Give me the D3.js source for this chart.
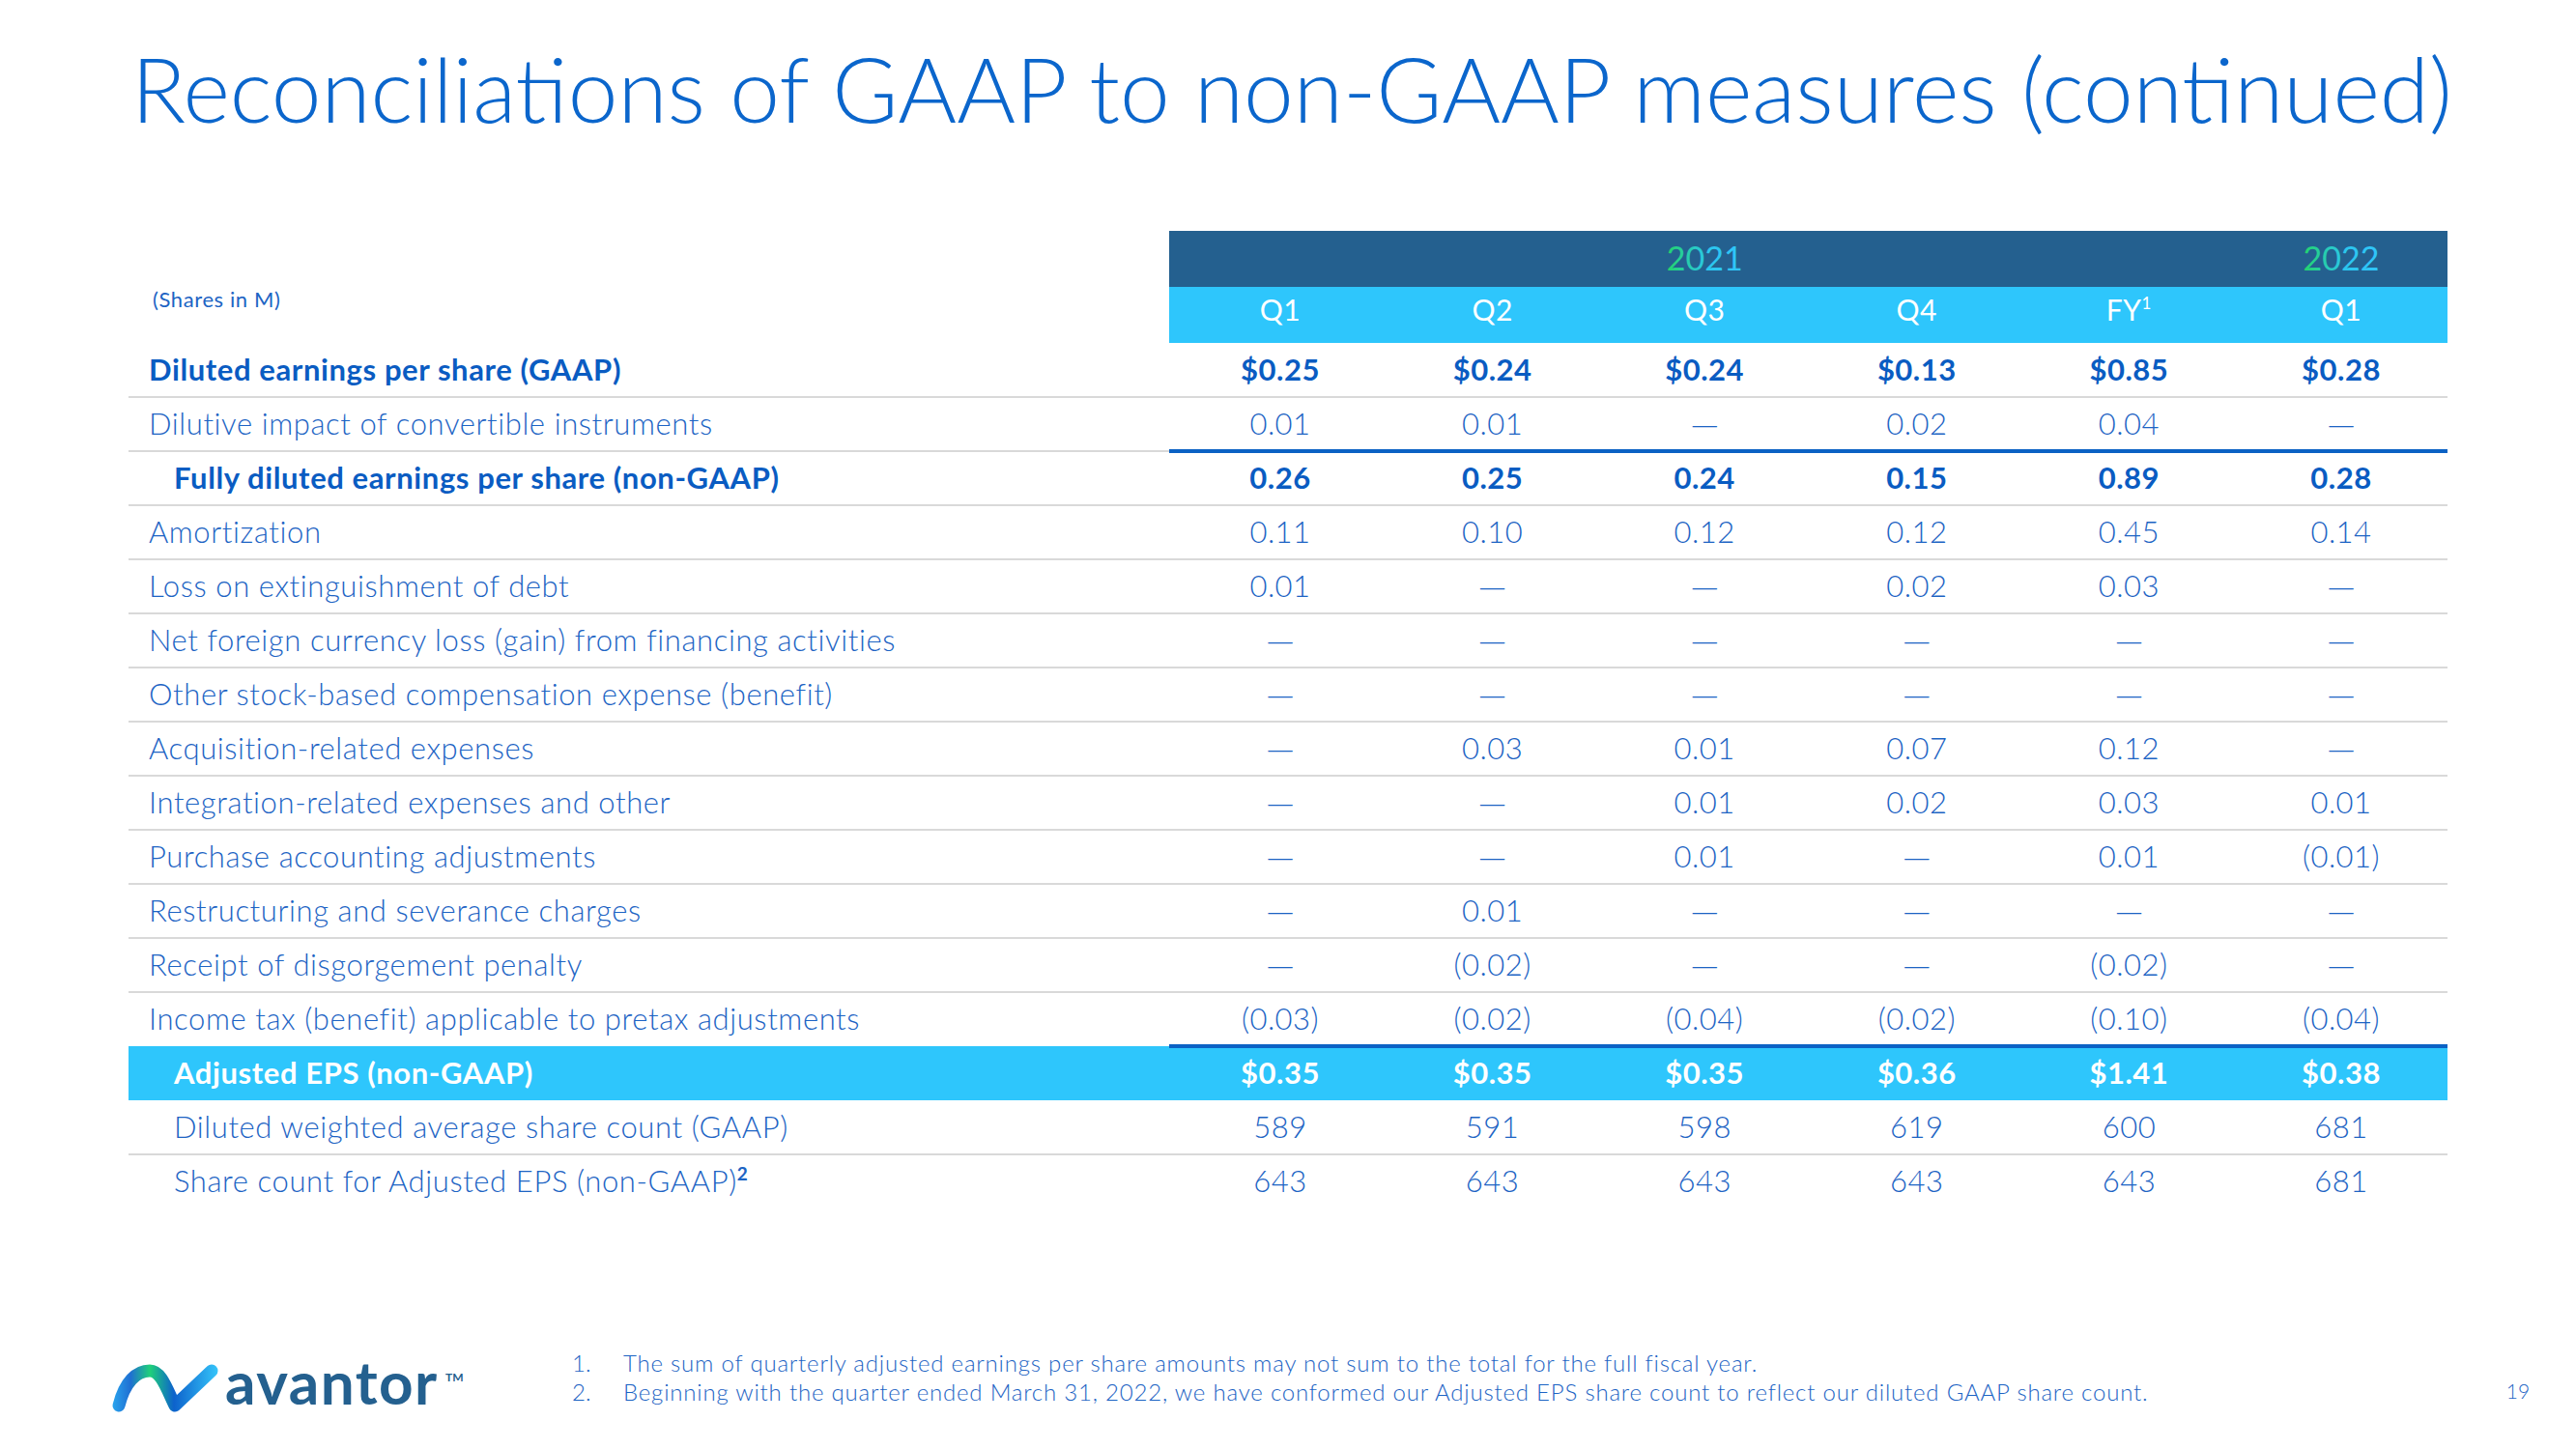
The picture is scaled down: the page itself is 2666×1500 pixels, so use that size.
<!DOCTYPE html>
<html><head><meta charset="utf-8">
<script src="https://cdn.jsdelivr.net/npm/d3@7"></script>
<style>body{margin:0;background:#fff}svg{display:block}text{font-family:Lato,"Open Sans",sans-serif}</style>
</head><body>
<svg id="c" width="2666" height="1500"></svg>
<script>
// ---------- data ----------
const title = "Reconciliations of GAAP to non-GAAP measures (continued)";
const columns = ["Q1", "Q2", "Q3", "Q4", "FY", "Q1b"];
const columnLabels = ["Q1", "Q2", "Q3", "Q4", "FY", "Q1"];
const columnSup = ["", "", "", "", "1", ""];
const years = [{label: "2021", col: "Q3"}, {label: "2022", col: "Q1b"}];
const rowLabels = [
  "Diluted earnings per share (GAAP)",
  "Dilutive impact of convertible instruments",
  "Fully diluted earnings per share (non-GAAP)",
  "Amortization",
  "Loss on extinguishment of debt",
  "Net foreign currency loss (gain) from financing activities",
  "Other stock-based compensation expense (benefit)",
  "Acquisition-related expenses",
  "Integration-related expenses and other",
  "Purchase accounting adjustments",
  "Restructuring and severance charges",
  "Receipt of disgorgement penalty",
  "Income tax (benefit) applicable to pretax adjustments",
  "Adjusted EPS (non-GAAP)",
  "Diluted weighted average share count (GAAP)",
  "Share count for Adjusted EPS (non-GAAP)"
];
const rowSup = ["", "", "", "", "", "", "", "", "", "", "", "", "", "", "", "2"];
const rowType = ["dollar","dec","dec","dec","dec","dec","dec","dec","dec","dec","dec","dec","dec","dollar","count","count"];
const rowBold = [true,false,true,false,false,false,false,false,false,false,false,false,false,true,false,false];
const rowIndent = [false,false,true,false,false,false,false,false,false,false,false,false,false,true,true,true];
const values = [
  [0.25, 0.24, 0.24, 0.13, 0.85, 0.28],
  [0.01, 0.01, null, 0.02, 0.04, null],
  [0.26, 0.25, 0.24, 0.15, 0.89, 0.28],
  [0.11, 0.10, 0.12, 0.12, 0.45, 0.14],
  [0.01, null, null, 0.02, 0.03, null],
  [null, null, null, null, null, null],
  [null, null, null, null, null, null],
  [null, 0.03, 0.01, 0.07, 0.12, null],
  [null, null, 0.01, 0.02, 0.03, 0.01],
  [null, null, 0.01, null, 0.01, -0.01],
  [null, 0.01, null, null, null, null],
  [null, -0.02, null, null, -0.02, null],
  [-0.03, -0.02, -0.04, -0.02, -0.10, -0.04],
  [0.35, 0.35, 0.35, 0.36, 1.41, 0.38],
  [589, 591, 598, 619, 600, 681],
  [643, 643, 643, 643, 643, 681]
];
const blueRuleAfter = [1, 12];
const highlightRow = 13;
const footnotes = [
  "The sum of quarterly adjusted earnings per share amounts may not sum to the total for the full fiscal year.",
  "Beginning with the quarter ended March 31, 2022, we have conformed our Adjusted EPS share count to reflect our diluted GAAP share count."
];
const unitsNote = "(Shares in M)";
const pageNumber = "19";

// ---------- drawing ----------
const svg = d3.select("#c");
const BLUE = "#0b66cc", TEXT = "#1d64c4", BOLD = "#0a5cc2", DARK = "#24608f", LIGHT = "#2ec6fc";
const tableLeft = 133, tableRight = 2533, colLeft = 1210;

const defs = svg.append("defs");
const yg = defs.append("linearGradient").attr("id","yearGrad").attr("x1","0").attr("x2","1");
yg.append("stop").attr("offset","0%").attr("stop-color","#22d46a");
yg.append("stop").attr("offset","55%").attr("stop-color","#2bc6ee");
yg.append("stop").attr("offset","100%").attr("stop-color","#30c5fc");

// title
const t = svg.append("text").attr("x",136).attr("y",127).attr("fill",BLUE)
  .attr("font-size",90).attr("font-weight",300).text(title);
const tw = t.node().getComputedTextLength();
t.attr("font-size", 90 * 2402 / tw);

const x = d3.scalePoint().domain(columns).range([1325, 2423]);
const y = d3.scaleBand().domain(d3.range(rowLabels.length)).range([355, 1251]);

// header bands
svg.append("rect").attr("x",colLeft).attr("y",239).attr("width",tableRight-colLeft).attr("height",58).attr("fill",DARK);
svg.append("rect").attr("x",colLeft).attr("y",297).attr("width",tableRight-colLeft).attr("height",58).attr("fill",LIGHT);
svg.selectAll("text.year").data(years).join("text").attr("class","year")
  .attr("x",d=>x(d.col)).attr("y",268).attr("dy","0.35em").attr("text-anchor","middle")
  .attr("font-size",34).attr("font-weight",400).attr("fill","url(#yearGrad)").text(d=>d.label);
const hq = svg.selectAll("text.hq").data(columns).join("text").attr("class","hq")
  .attr("x",(d)=>x(d)).attr("y",321).attr("dy","0.35em").attr("text-anchor","middle")
  .attr("font-size",30).attr("font-weight",400).attr("letter-spacing",0.5).attr("fill","#fff");
hq.each(function(d,i){
  const s = d3.select(this);
  s.append("tspan").text(columnLabels[i]);
  if (columnSup[i]) s.append("tspan").attr("font-size",17).attr("dy","-0.7em").text(columnSup[i]);
});
svg.append("text").attr("x",158).attr("y",310).attr("dy","0.35em").attr("font-size",22)
  .attr("letter-spacing",0.6).attr("font-weight",400).attr("fill",TEXT).text(unitsNote);

// highlight row
svg.append("rect").attr("x",tableLeft).attr("y",y(highlightRow)).attr("width",tableRight-tableLeft)
  .attr("height",y.bandwidth()).attr("fill",LIGHT);

// row separators
const sepRows = d3.range(rowLabels.length - 1).filter(i => i !== highlightRow && i !== highlightRow - 1);
svg.selectAll("line.sep").data(sepRows).join("line").attr("class","sep")
  .attr("x1",tableLeft).attr("x2",tableRight)
  .attr("y1",i=>y(i)+y.bandwidth()).attr("y2",i=>y(i)+y.bandwidth())
  .attr("stroke","#d9d9d9").attr("stroke-width",2);
svg.selectAll("line.blue").data(blueRuleAfter).join("line").attr("class","blue")
  .attr("x1",colLeft).attr("x2",tableRight)
  .attr("y1",i=>y(i)+y.bandwidth()).attr("y2",i=>y(i)+y.bandwidth())
  .attr("stroke","#0b62c4").attr("stroke-width",4);

// row labels
const lab = svg.selectAll("text.lab").data(rowLabels).join("text").attr("class","lab")
  .attr("x",(d,i)=>rowIndent[i] ? 180 : 154)
  .attr("y",(d,i)=>y(i)+y.bandwidth()/2).attr("dy","0.35em")
  .attr("font-size",31).attr("letter-spacing",0.6)
  .attr("font-weight",(d,i)=>rowBold[i] ? 700 : 300)
  .attr("fill",(d,i)=>i===highlightRow ? "#fff" : (rowBold[i] ? BOLD : TEXT));
lab.each(function(d,i){
  const s = d3.select(this);
  s.append("tspan").text(d);
  if (rowSup[i]) s.append("tspan").attr("font-size",19).attr("font-weight",700).attr("dy","-0.6em").text(rowSup[i]);
});

// values
const fmt = (v, type) => {
  if (v === null) return "\u2014";
  if (type === "count") return d3.format("d")(v);
  const s = d3.format(".2f")(Math.abs(v));
  if (type === "dollar") return "$" + s;
  return v < 0 ? "(" + s + ")" : s;
};
const cells = [];
values.forEach((row, i) => row.forEach((v, j) => cells.push({i, j, v})));
svg.selectAll("text.val").data(cells).join("text").attr("class","val")
  .attr("x",d=>x(columns[d.j])).attr("y",d=>y(d.i)+y.bandwidth()/2).attr("dy","0.35em")
  .attr("text-anchor","middle")
  .attr("font-size",d=>d.v===null?28:31)
  .attr("letter-spacing",d=>d.v===null?0:0.5)
  .style("font-family",d=>d.v===null?"'DejaVu Sans'":null)
  .attr("font-weight",d=>d.v===null ? 300 : (rowBold[d.i] ? 700 : 300))
  .attr("fill",d=>d.i===highlightRow ? "#fff" : (rowBold[d.i] ? BOLD : TEXT))
  .text(d=>fmt(d.v, rowType[d.i]));

// footnotes
svg.selectAll("text.fnn").data(footnotes).join("text").attr("class","fnn")
  .attr("x",592).attr("y",(d,i)=>1412+i*30).attr("dy","0.35em").attr("font-size",24)
  .attr("font-weight",300).attr("fill",TEXT).text((d,i)=>(i+1)+".");
svg.selectAll("text.fn").data(footnotes).join("text").attr("class","fn")
  .attr("x",645).attr("y",(d,i)=>1412+i*30).attr("dy","0.35em").attr("font-size",24)
  .attr("letter-spacing",0.8).attr("font-weight",300).attr("fill",TEXT).text(d=>d);
svg.append("text").attr("x",2606).attr("y",1441).attr("dy","0.35em").attr("text-anchor","middle")
  .attr("font-size",21).attr("font-weight",300).attr("fill",TEXT).text(pageNumber);

// logo
const lg = defs.append("linearGradient").attr("id","logoGrad").attr("gradientUnits","userSpaceOnUse")
  .attr("x1",0).attr("x2",112).attr("y1",0).attr("y2",0);
lg.append("stop").attr("offset","0%").attr("stop-color","#2aa8f0");
lg.append("stop").attr("offset","18%").attr("stop-color","#1f6fd2");
lg.append("stop").attr("offset","36%").attr("stop-color","#1fd07a");
lg.append("stop").attr("offset","58%").attr("stop-color","#0d62cc");
lg.append("stop").attr("offset","100%").attr("stop-color","#36c8fb");
const logo = svg.append("g").attr("transform","translate(115,1415)");
logo.append("path").attr("d","M8,40 C14,16 26,4 40,4 C52,4 58,24 66,40 L104,4")
  .attr("fill","none").attr("stroke","url(#logoGrad)").attr("stroke-width",13)
  .attr("stroke-linecap","round").attr("stroke-linejoin","round");
svg.append("text").attr("x",233).attr("y",1454).attr("font-size",62).attr("font-weight",700)
  .attr("letter-spacing",1.5).attr("fill",DARK).text("avantor");
svg.append("text").attr("x",461).attr("y",1430).attr("font-size",12).attr("font-weight",700)
  .attr("fill",DARK).text("TM");
</script>
</body></html>
